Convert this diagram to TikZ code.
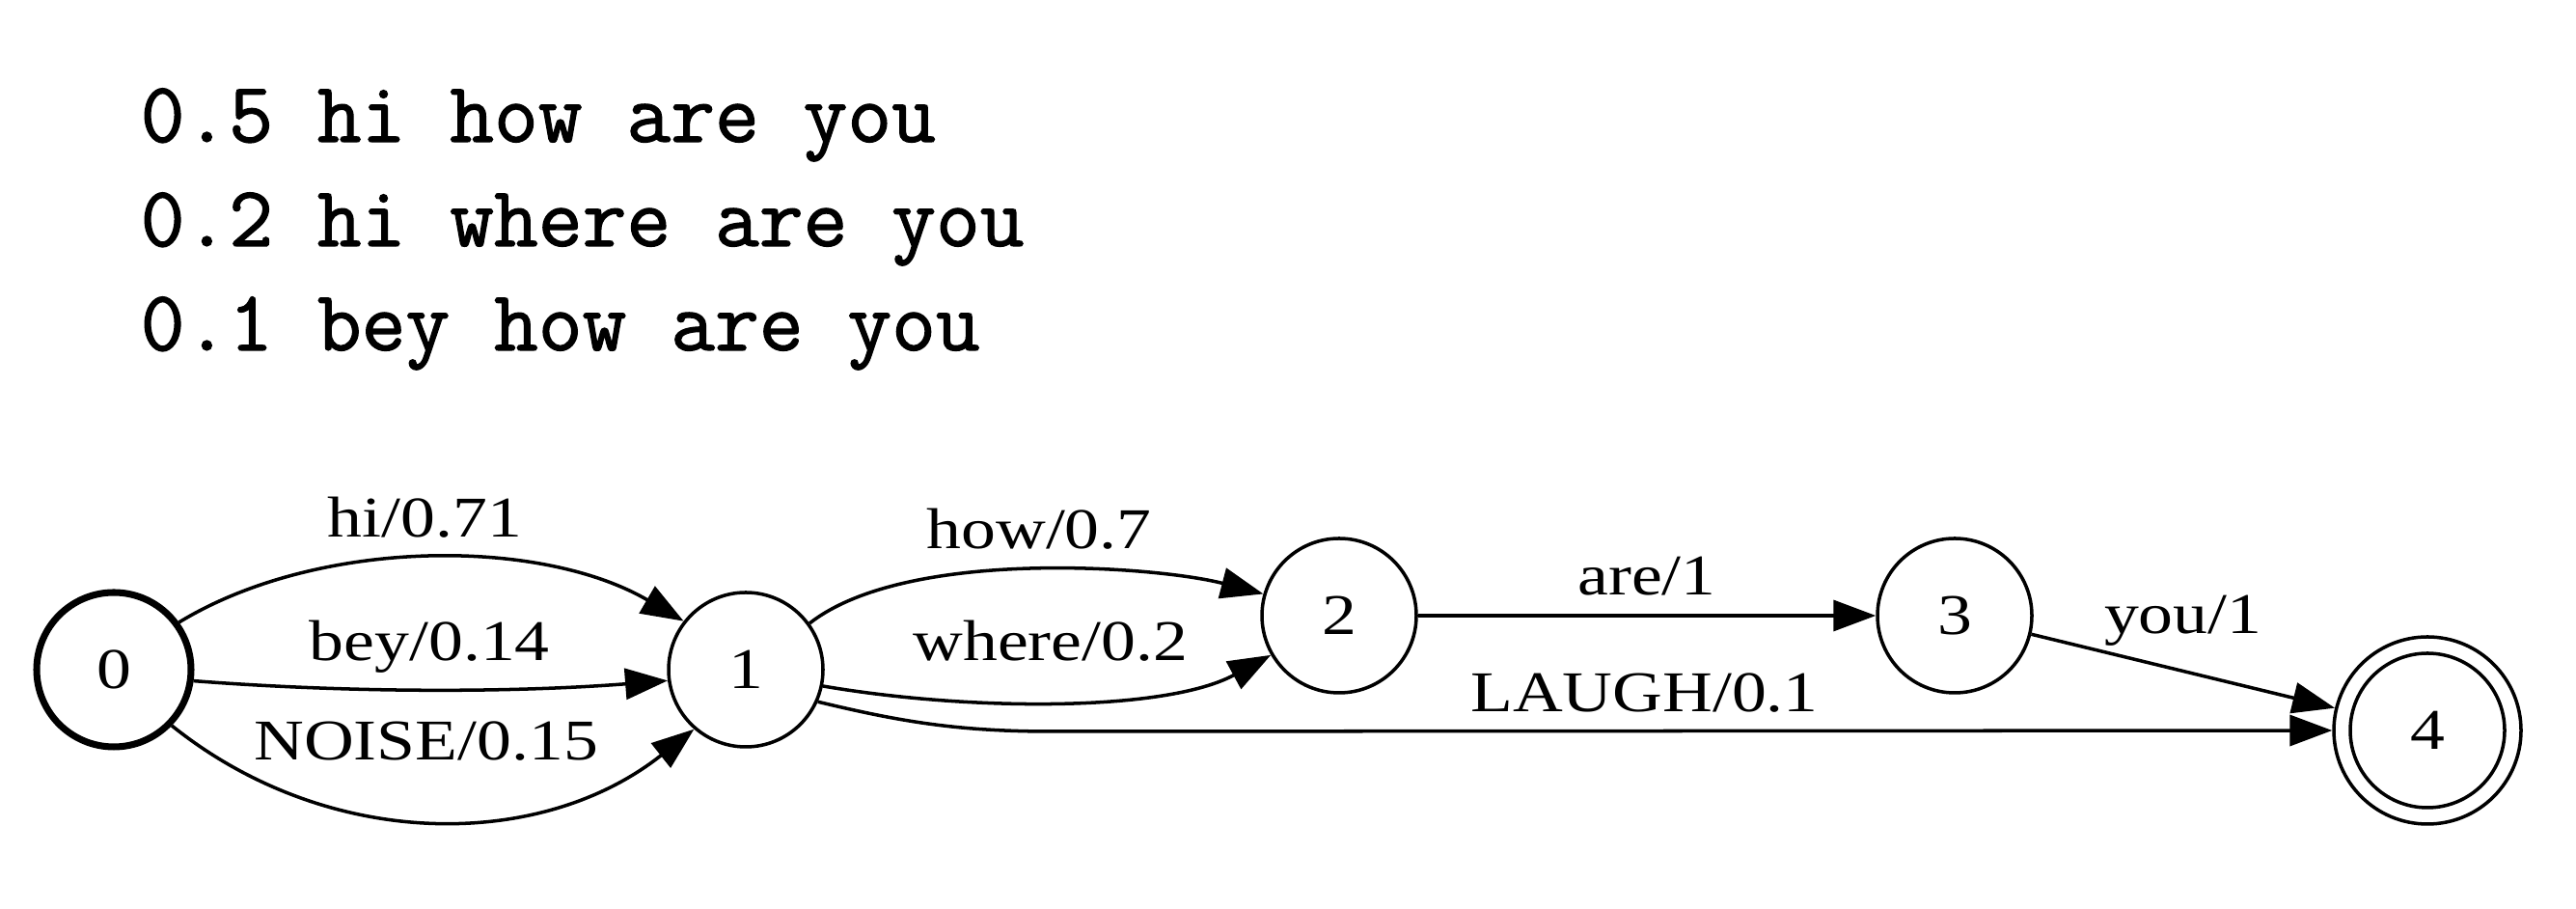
\documentclass[tikz,border=0pt]{standalone}
\usepackage{fontspec}
\newfontfamily\graphfont[FakeStretch=1.2]{Liberation Serif}
\newfontfamily\listfont[FakeBold=1.4]{Latin Modern Mono}
\usepackage{tikz}
\usetikzlibrary{arrows.meta}

\begin{document}
\begin{tikzpicture}[
  fststate/.style={circle, draw, line width=1pt, minimum size=1.6cm, inner sep=0pt, font=\graphfont\fontsize{17}{20}\selectfont},
  edgelbl/.style={anchor=base, inner sep=0pt, font=\graphfont\fontsize{17}{20}\selectfont},
  arc/.style={line width=1pt, -{Triangle[length=0.44cm, width=0.32cm]}}
]
  \useasboundingbox (0, 0) rectangle (26.7, 9.42);

  % n-best list
  \foreach \txt [count=\i] in {0.5 hi how are you, 0.2 hi where are you, 0.1 bey how are you}
    \node[anchor=base west, inner sep=0pt, font=\listfont\fontsize{25.3}{30}\selectfont] (sent\i) at (1.45, 9.03 - 1.08*\i) {\txt};

  % states
  \node[fststate, line width=2pt] (n0) at (1.18, 2.48) {0};
  \node[fststate] (n1) at (7.73, 2.48) {1};
  \node[fststate] (n2) at (13.88, 3.04) {2};
  \node[fststate] (n3) at (20.26, 3.04) {3};
  \node[fststate, minimum size=1.94cm] (n4) at (25.16, 1.85) {4};
  \draw[line width=1pt] (n4.center) circle[radius=0.8cm];

  % arcs
  \draw[arc] (n0.36) .. controls (3.3, 3.85) and (5.6, 3.85) .. node[edgelbl, xshift=-0.5mm, yshift=2.2mm] {hi/0.71} (n1.142);
  \draw[arc] (n0.-8) .. controls (3.6, 2.24) and (5.3, 2.24) .. node[edgelbl, yshift=3mm] {bey/0.14} (n1.-172);
  \draw[arc] (n0.-44) .. controls (3.4, 0.6) and (5.6, 0.6) .. node[edgelbl, xshift=-0.8mm, yshift=6.2mm] {NOISE/0.15} (n1.-131);
  \draw[arc] (n1.36) .. controls (9.4, 3.75) and (12.0, 3.55) .. node[edgelbl, xshift=0.6mm, yshift=2.2mm] {how/0.7} (n2.164);
  \draw[arc] (n1.-12) .. controls (10.04, 2.05) and (12.08, 2.04) .. node[edgelbl, xshift=-1.2mm, yshift=4.2mm] {where/0.2} (n2.-150);
  \draw[arc] (n1.-24) .. controls (9.3, 1.95) and (9.9, 1.84) .. (10.9, 1.84) -- node[edgelbl, pos=0.463, yshift=2mm] {LAUGH/0.1} (n4.west);
  \draw[arc] (n2) -- node[edgelbl, yshift=2.1mm] {are/1} (n3);
  \draw[arc] (n3) -- node[edgelbl, yshift=3.9mm] {you/1} (n4);
\end{tikzpicture}
\end{document}
